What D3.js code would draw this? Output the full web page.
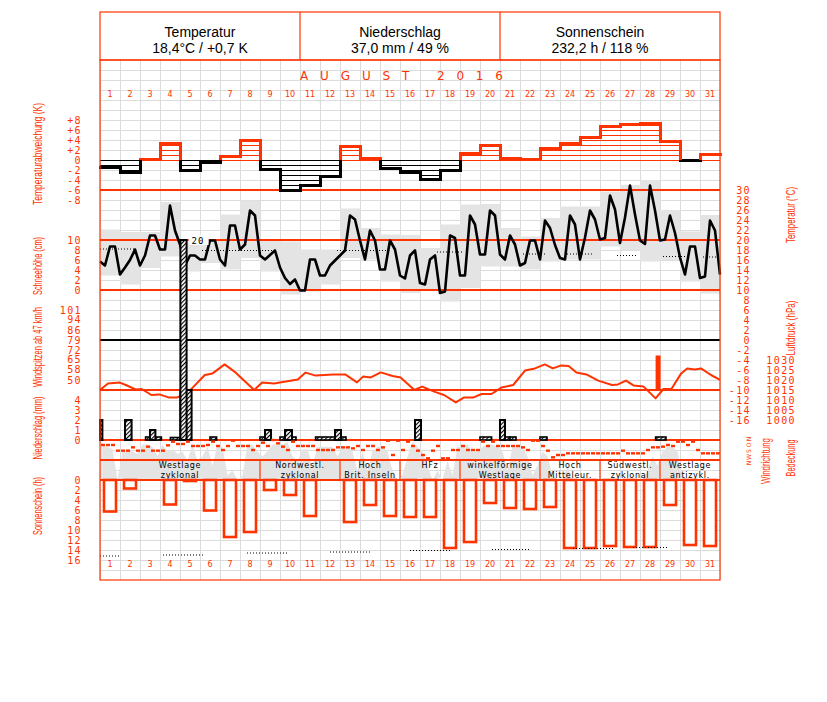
<!DOCTYPE html>
<html><head><meta charset="utf-8">
<script src="https://cdn.jsdelivr.net/npm/d3@7"></script>
<style>body{margin:0;background:#fff}</style>
</head><body>
<svg id="c" width="827" height="702" xmlns="http://www.w3.org/2000/svg"></svg>
<script>
// ---------------- DATA ----------------
const dayNums = d3.range(1, 32);
const headerTitles = ["Temperatur", "Niederschlag", "Sonnenschein"];
const headerValues = ["18,4°C / +0,7 K", "37,0 mm / 49 %", "232,2 h / 118 %"];
const monthTitle = "AUGUST 2016";

// daily temperature anomaly (K)
const anomaly = [-1.5,-2.5,0.2,3.3,-2.0,-0.5,0.7,3.9,-1.8,-6.1,-5.1,-3.2,2.7,0.3,-1.7,-2.5,-3.9,-2.1,1.3,2.9,0.3,0.1,2.4,3.3,4.5,6.8,7.1,7.4,3.8,-0.1,1.1];

// daily min / max temperature (°C)
const tempMax = [22.1,21.6,21.6,27.6,20.1,20.1,25.1,27.9,19.8,19.7,18.1,18.1,26.3,22.4,21.1,21.0,18.4,23.1,27.1,27.2,22.4,20.7,24.4,26.7,26.7,29.7,31.0,32.0,26.0,21.7,25.0];
const tempMin = [12.9,11.1,14.4,16.7,13.7,15.4,14.1,16.4,13.7,9.1,9.7,11.1,16.4,16.1,11.7,9.4,10.1,7.7,10.4,14.7,14.7,14.1,15.7,16.1,16.1,18.7,18.0,15.7,16.0,11.7,9.3];

// 6-hourly temperature (°C), 4 values per day + end value
const temp6h = [15.7,14.9,18.7,18.7, 13.1,14.5,16.0,18.1, 14.9,16.9,20.9,20.9, 18.1,18.1,26.9,21.9,
 19.1,14.9,16.9,16.9, 16.1,16.1,19.9,19.9, 16.1,14.9,22.9,22.9, 18.1,19.1,25.9,24.9,
 16.9,16.1,17.0,17.9, 14.5,12.4,11.2,12.1, 9.9,9.9,16.1,16.1, 12.9,12.9,14.9,15.9,
 16.9,17.9,24.9,24.1, 19.9,16.1,21.9,19.9, 14.1,14.1,19.9,18.1, 12.9,12.3,16.9,17.9,
 11.4,11.1,16.1,16.9, 9.4,9.7,20.9,20.4, 12.9,12.9,24.9,23.1, 17.1,17.1,25.9,24.9,
 17.1,16.1,20.9,19.1, 14.9,15.4,19.9,19.9, 16.1,23.9,22.4,19.0, 16.4,16.1,24.9,23.1,
 16.1,20.5,25.9,24.1, 20.1,20.4,28.9,26.1, 19.4,24.5,30.9,25.1, 19.9,19.2,30.9,25.9,
 19.9,20.1,24.9,21.4, 16.5,13.1,18.7,18.7, 12.4,12.7,23.9,21.9, 13.1];

// long-term mean temperature segments (day position from, to, °C)
const climFrom = [0, 5.1, 11.85, 16.85, 21.15, 23.35, 25.85, 28.15, 30.15];
const climTo   = [1.75, 8.65, 14.35, 18.15, 22.35, 24.6, 26.9, 29.35, 31];
const climTemp = [18.2, 17.9, 17.9, 17.6, 17.2, 17.2, 16.9, 16.7, 16.6];

// air pressure (time in days, hPa)
const pressureT = [0,0.40,0.99,1.29,1.78,2.08,2.57,2.97,3.46,3.86,4.15,4.55,5.24,5.63,6.23,6.72,7.71,8.11,8.70,9.29,9.89,10.28,10.78,11.66,12.26,12.85,13.15,13.54,14.04,14.63,15.03,15.72,16.11,16.71,17.20,17.79,18.19,18.68,19.08,19.57,20.07,20.66,21.25,21.75,22.24,22.64,23.03,23.43,23.82,24.32,24.91,25.60,25.90,26.30,26.69,27.18,27.78,28.17,28.57,29.06,29.36,29.75,30.05,30.55,31.0];
const pressureHpa = [1015,1018.3,1018.7,1017.5,1015.3,1015.5,1012.5,1012.8,1011.2,1011.3,1012.5,1015.3,1022.5,1023.3,1027.8,1024.2,1015,1018.8,1018.3,1019.2,1020.3,1023.7,1022.2,1022.8,1022.8,1018.8,1021.7,1021.3,1023.8,1022,1021.2,1015,1016.7,1014.2,1012.5,1008.8,1011.2,1011.3,1013,1013,1016.2,1017.5,1024.7,1025.8,1027.8,1025.8,1027.2,1027,1023.8,1022.8,1019.7,1017.5,1017.8,1019.7,1017.2,1016.7,1010.8,1015.5,1015.5,1023.3,1025.8,1025.3,1025.8,1022.5,1020.1];

// wind gusts >= 47 km/h (time from, to, km/h)
const gustFrom = [27.78];
const gustTo = [28.03];
const gustKmh = [68];

// precipitation (time from, to in days, mm)
const precFrom = [0.0, 1.25, 2.28, 2.5, 3.52, 4.02, 4.02, 5.5, 8.0, 8.25, 9.0, 9.25, 10.78, 11.75, 15.75, 19.0, 20.0, 20.5, 20.0, 22.0, 27.78];
const precTo   = [0.12, 1.58, 3.07, 2.77, 4.0, 4.58, 4.33, 5.83, 8.3, 8.55, 9.8, 9.6, 12.3, 12.05, 16.05, 19.58, 20.5, 20.8, 20.25, 22.35, 28.3];
const precMm   = [2.0, 2.0, 0.3, 1.0, 0.25, 5.0, 20.0, 0.3, 0.3, 1.0, 0.3, 1.0, 0.3, 1.0, 2.0, 0.3, 0.3, 0.3, 2.0, 0.3, 0.3];

// 6-hourly wind direction (degrees)
const windDir = [90,90,90,175,175,175,125,175,175,115,175,175,175,95,40,75,75,40,105,105,105,90,40,105,165,105,25,105,105,105,165,105,55,105,15,65,115,165,40,105,105,105,105,165,165,165,165,125,125,125,140,105,165,105,105,165,125,25,240,25,165,40,105,175,240,290,175,105,290,290,165,165,105,165,165,165,40,105,40,105,105,105,105,105,125,165,25,25,105,175,275,240,240,215,215,215,215,215,215,215,215,215,215,215,175,215,215,215,215,165,125,125,115,90,105,40,40,90,40,165,215,215,215,215];

// 6-hourly cloud cover (octas)
const cloudCover = [7.5,7,6.5,0, 6,6.5,6,5.5, 7.5,7.5,7,5, 7.5,6,6.5,5.5, 6,4,7.5,4, 5,7,3,7.5, 7,1,2,0, 1,7.5,7.5,6,
 5,6,7.5,7.5, 7.5,8,5,4, 6.5,6.5,3,7, 7,7,7,5, 7,7,6,2, 6,2,6,7, 7,6,2,0, 1,5,8,7,
 6,3,0,2, 0,4,1,7, 7,7.5,6,6, 7,7.5,7.5,7, 6,2,7,7, 7,5,1,3, 6,5,1,0, 0,3,0,0,
 0,0,0,0, 0,0,0,0, 0,0,0,0, 0,2,5,3, 6,7,7,6, 1,0,0,0, 0,0,0,0];

// weather types (Großwetterlagen)
const wtFirstDay = [1, 9, 13, 16, 19, 23, 26, 29];
const wtLastDay  = [8, 12, 15, 18, 22, 25, 28, 31];
const wtLine1 = ["Westlage", "Nordwestl.", "Hoch", "HFz", "winkelförmige", "Hoch", "Südwestl.", "Westlage"];
const wtLine2 = ["zyklonal", "zyklonal", "Brit. Inseln", "", "Westlage", "Mitteleur.", "zyklonal", "antizykl."];

// daily sunshine (h)
const sunshine = [6.3,1.7,0,4.9,0.2,6.1,11.4,10.4,2.0,3.0,7.2,0,8.4,5.0,7.2,7.4,7.4,13.6,12.4,4.6,5.6,5.8,5.4,13.6,13.6,13.2,13.4,13.4,5.0,13.0,13.2];
// reference sunshine segments (from, to, h)
const sunRefFrom = [0, 3.15, 7.35, 11.5, 15.5, 19.6, 23.65, 26.65];
const sunRefTo   = [1, 5.15, 9.35, 13.5, 17.5, 21.5, 25.65, 28.4];
const sunRef     = [15.2, 15.0, 14.6, 14.4, 14.1, 13.9, 13.7, 13.5];

// tick labels
const anomTicks = [8,6,4,2,0,-2,-4,-6,-8];
const snowTicks = [10,8,6,4,2,0];
const windTicks = [101,94,86,79,72,65,58,50];
const precTicks = [4,3,2,1,0];
const sunTicks = [0,2,4,6,8,10,12,14,16];
const tempTicks = d3.range(30, -17, -2);
const presTicks = [1030,1025,1020,1015,1010,1005,1000];
const dirLetters = ["N","O","S","W","N"];
const dirLetterDeg = [0,90,180,270,360];

// ---------------- DRAW ----------------
const RED = "#ff3300";
const GREY = "#e4e4e4";
const svg = d3.select("#c");

const defs = svg.append("defs");
const pat = defs.append("pattern").attr("id","hatch").attr("patternUnits","userSpaceOnUse")
  .attr("width",3).attr("height",3).attr("patternTransform","rotate(45)");
pat.append("rect").attr("width",3).attr("height",3).attr("fill","#fff");
pat.append("line").attr("x1",0.5).attr("y1",0).attr("x2",0.5).attr("y2",3).attr("stroke","#000").attr("stroke-width",1.3);

const x = d3.scaleLinear().domain([0, 31]).range([100, 720]);
const yAnom = d3.scaleLinear().domain([-8, 8]).range([200, 120]);
const yTemp = d3.scaleLinear().domain([-16, 30]).range([420, 190]);
const ySnow = d3.scaleLinear().domain([0, 10]).range([290, 240]);
const yWind = d3.scaleLinear().domain([43, 101]).range([390, 310]);
const yPrec = d3.scaleLinear().domain([0, 4]).range([440, 400]);
const yPres = d3.scaleLinear().domain([1000, 1030]).range([420, 360]);
const yDir = d3.scaleLinear().domain([0, 360]).range([439, 463]);
const yCloud = d3.scaleLinear().domain([0, 8]).range([480, 442]);
const ySun = d3.scaleLinear().domain([0, 16]).range([480, 560]);

// grid
const grid = svg.append("g").attr("stroke","#dcdcdc").attr("stroke-width",1).attr("shape-rendering","crispEdges");
d3.range(0, 32).forEach(k => grid.append("line").attr("x1",x(k)).attr("x2",x(k)).attr("y1",60).attr("y2",580));
d3.range(70, 580, 10).forEach(v => grid.append("line").attr("x1",100).attr("x2",720).attr("y1",v).attr("y2",v));

// temperature min/max bands
svg.append("g").selectAll("rect").data(dayNums).join("rect")
  .attr("x", d => x(d-1)).attr("width", x(1)-x(0))
  .attr("y", (d,i) => yTemp(tempMax[i])).attr("height", (d,i) => yTemp(tempMin[i]) - yTemp(tempMax[i]))
  .attr("fill", GREY);

// cloud cover area
const cloudArea = d3.area().x((d,i) => x(i/4 + 0.125)).y0(yCloud(0)).y1(d => yCloud(d));
svg.append("path").datum(cloudCover).attr("d", cloudArea).attr("fill", GREY);
svg.append("rect").attr("x",x(0)).attr("width",x(0.125)-x(0)).attr("y",yCloud(cloudCover[0])).attr("height",yCloud(0)-yCloud(cloudCover[0])).attr("fill",GREY);

// panel separator lines (red)
const sep = svg.append("g").attr("stroke",RED).attr("stroke-width",1.2).attr("shape-rendering","crispEdges");
[yTemp(30), yTemp(20), yTemp(10), yWind(43), yPrec(0), 460, 480].forEach(v =>
  sep.append("line").attr("x1",100).attr("x2",720).attr("y1",v).attr("y2",v));
// 0 °C line
svg.append("line").attr("x1",100).attr("x2",720).attr("y1",yTemp(0)).attr("y2",yTemp(0))
  .attr("stroke","#000").attr("stroke-width",1.2).attr("shape-rendering","crispEdges");

// long-term mean temperature (dotted)
svg.append("g").selectAll("line").data(climTemp).join("line")
  .attr("x1",(d,i)=>x(climFrom[i])).attr("x2",(d,i)=>x(climTo[i]))
  .attr("y1",d=>yTemp(d)).attr("y2",d=>yTemp(d))
  .attr("stroke","#000").attr("stroke-width",1).attr("stroke-dasharray","1,2");

// temperature curve
svg.append("path").datum(temp6h)
  .attr("d", d3.line().x((d,i)=>x(i/4)).y(d=>yTemp(d)))
  .attr("fill","none").attr("stroke","#000").attr("stroke-width",2.6).attr("stroke-linejoin","round");

// temperature anomaly: hatch lines
const anomG = svg.append("g").attr("shape-rendering","crispEdges");
anomaly.forEach((a,i) => {
  const col = a >= 0 ? RED : "#000";
  const levels = a >= 0 ? d3.range(0, a, 1) : d3.range(0, a, -1);
  levels.forEach(k => anomG.append("line").attr("x1",x(i)).attr("x2",x(i+1))
    .attr("y1",yAnom(k)).attr("y2",yAnom(k)).attr("stroke",col).attr("stroke-width",1));
});
// anomaly envelope
anomaly.forEach((a,i) => {
  const col = a >= 0 ? RED : "#000";
  anomG.append("line").attr("x1",x(i)).attr("x2",x(i+1)).attr("y1",yAnom(a)).attr("y2",yAnom(a))
    .attr("stroke",col).attr("stroke-width",3).attr("stroke-linecap","square");
  if (i > 0) {
    const p = anomaly[i-1];
    const hi = Math.max(a,p), lo = Math.min(a,p);
    if (hi > 0) anomG.append("line").attr("x1",x(i)).attr("x2",x(i)).attr("y1",yAnom(Math.max(lo,0))).attr("y2",yAnom(hi))
      .attr("stroke",RED).attr("stroke-width",3);
    if (lo < 0) anomG.append("line").attr("x1",x(i)).attr("x2",x(i)).attr("y1",yAnom(Math.min(hi,0))).attr("y2",yAnom(lo))
      .attr("stroke","#000").attr("stroke-width",3);
  }
});

// pressure curve
svg.append("path").datum(pressureHpa)
  .attr("d", d3.line().x((d,i)=>x(pressureT[i])).y(d=>yPres(d)))
  .attr("fill","none").attr("stroke",RED).attr("stroke-width",2).attr("stroke-linejoin","round");

// wind gusts
svg.append("g").selectAll("rect").data(gustKmh).join("rect")
  .attr("x",(d,i)=>x(gustFrom[i])).attr("width",(d,i)=>x(gustTo[i])-x(gustFrom[i]))
  .attr("y",d=>yWind(d)).attr("height",d=>yWind(43)-yWind(d)).attr("fill",RED);

// precipitation
const precG = svg.append("g");
precMm.forEach((m,i) => {
  precG.append("rect").attr("x",x(precFrom[i])).attr("width",x(precTo[i])-x(precFrom[i]))
    .attr("y",yPrec(m)).attr("height",yPrec(0)-yPrec(m))
    .attr("fill","url(#hatch)").attr("stroke","#000").attr("stroke-width",m >= 1 ? 2 : 1.6);
  if (m >= 10) {
    const tx = x(precTo[i]) + 5, ty = yPrec(m);
    precG.append("rect").attr("x",tx-3).attr("y",ty-5).attr("width",20).attr("height",10).attr("fill","#fff");
    precG.append("text").attr("x",tx).attr("y",ty+3.5).text(d3.format("d")(m))
      .attr("font-family","DejaVu Sans Mono").attr("font-size",9).attr("letter-spacing",1).attr("fill","#000");
  }
});

// wind direction dots
svg.append("g").selectAll("rect").data(windDir).join("rect")
  .attr("x",(d,i)=>x(i/4 + 0.15) - 2).attr("width",4)
  .attr("y",d=>yDir(d) - 1.2).attr("height",2.4).attr("fill",RED);

// weather type band
const wtG = svg.append("g");
wtFirstDay.forEach((f,i) => {
  if (i > 0) wtG.append("line").attr("x1",x(f-1)).attr("x2",x(f-1)).attr("y1",460).attr("y2",480)
    .attr("stroke",RED).attr("stroke-width",1.2);
  const cx = (x(f-1) + x(wtLastDay[i])) / 2;
  const fnt = {family:"DejaVu Sans", size:8, ls:0.7};
  wtG.append("text").attr("x",cx).attr("y",467.5).attr("text-anchor","middle")
    .attr("font-family",fnt.family).attr("font-size",fnt.size).attr("letter-spacing",fnt.ls).attr("fill","#000").text(wtLine1[i]);
  if (wtLine2[i]) wtG.append("text").attr("x",cx).attr("y",477.5).attr("text-anchor","middle")
    .attr("font-family",fnt.family).attr("font-size",fnt.size).attr("letter-spacing",fnt.ls).attr("fill","#000").text(wtLine2[i]);
});

// sunshine bars
const sunG = svg.append("g");
sunshine.forEach((s,i) => {
  if (s <= 0) return;
  sunG.append("rect").attr("x",x(i + 0.2)).attr("width",x(0.6)-x(0))
    .attr("y",ySun(0)).attr("height",ySun(s)-ySun(0))
    .attr("fill","#fff").attr("stroke",RED).attr("stroke-width",2.6);
});
// sunshine reference (dotted)
svg.append("g").selectAll("line").data(sunRef).join("line")
  .attr("x1",(d,i)=>x(sunRefFrom[i])).attr("x2",(d,i)=>x(sunRefTo[i]))
  .attr("y1",d=>ySun(d)).attr("y2",d=>ySun(d))
  .attr("stroke","#000").attr("stroke-width",1).attr("stroke-dasharray","1,2");

// day numbers
[97, 567].forEach(yy => {
  svg.append("g").selectAll("text").data(dayNums).join("text")
    .attr("x",d=>x(d-0.5)).attr("y",yy).attr("text-anchor","middle")
    .attr("font-family","DejaVu Sans").attr("font-size",8).attr("fill",RED).text(d=>d);
});

// title
svg.append("text").attr("x",300).attr("y",80).attr("textLength",203).attr("lengthAdjust","spacing")
  .attr("font-family","DejaVu Sans").attr("font-size",12).attr("fill",RED).text(monthTitle);

// header
const hd = svg.append("g");
hd.append("rect").attr("x",100).attr("y",12).attr("width",620).attr("height",48)
  .attr("fill","none").attr("stroke",RED).attr("stroke-width",1.2);
[300, 500].forEach(v => hd.append("line").attr("x1",v).attr("x2",v).attr("y1",12).attr("y2",60).attr("stroke",RED).attr("stroke-width",1.2));
headerTitles.forEach((t,i) => {
  const cx = 200 + 200*i;
  hd.append("text").attr("x",cx).attr("y",37).attr("text-anchor","middle")
    .attr("font-family","Liberation Sans, Arial").attr("font-size",14).attr("fill","#000").text(t);
  hd.append("text").attr("x",cx).attr("y",53).attr("text-anchor","middle")
    .attr("font-family","Liberation Sans, Arial").attr("font-size",14).attr("fill","#000").text(headerValues[i]);
});

// outer frame
svg.append("rect").attr("x",100).attr("y",60).attr("width",620).attr("height",520)
  .attr("fill","none").attr("stroke",RED).attr("stroke-width",1.2);

// axes (tick labels)
function labelAxis(scale, values, xpos, fmt) {
  const g = svg.append("g").attr("transform",`translate(${xpos},0)`)
    .call(d3.axisLeft(scale).tickValues(values).tickSize(0).tickPadding(0).tickFormat(fmt || (d => d)));
  g.select(".domain").remove();
  g.attr("font-family","DejaVu Sans Mono").attr("font-size",10);
  g.selectAll("text").attr("fill",RED).attr("letter-spacing",1.4);
  return g;
}
labelAxis(yAnom, anomTicks, 82, d => d > 0 ? "+" + d : String(d));
labelAxis(ySnow, snowTicks, 82);
labelAxis(yWind, windTicks, 82);
labelAxis(yPrec, precTicks, 82);
labelAxis(ySun, sunTicks, 82);
labelAxis(yTemp, tempTicks, 751);
labelAxis(yPres, presTicks, 796);

// wind direction letters
svg.append("g").selectAll("text").data(dirLetters).join("text")
  .attr("transform",(d,i)=>`translate(751,${yDir(dirLetterDeg[i])}) rotate(-90)`)
  .attr("text-anchor","middle").attr("font-family","DejaVu Sans").attr("font-size",6).attr("fill",RED).text(d=>d);

// vertical titles
function vTitle(txt, xx, yc, len) {
  svg.append("text").attr("transform",`translate(${xx},${yc}) rotate(-90)`)
    .attr("text-anchor","middle").attr("font-family","Liberation Sans Narrow, Liberation Sans, Arial")
    .attr("font-size",12).attr("fill",RED).attr("textLength",len).attr("lengthAdjust","spacingAndGlyphs").text(txt);
}
vTitle("Temperaturabweichung (K)", 42, 154, 102);
vTitle("Schneehöhe (cm)", 42, 266, 58);
vTitle("Windspitzen ab 47 km/h", 42, 347, 80);
vTitle("Niederschlag (mm)", 42, 428, 63);
vTitle("Sonnenschein (h)", 42, 506, 58);
vTitle("Temperatur (°C)", 795, 215, 56);
vTitle("Luftdruck (hPa)", 795, 328, 55);
vTitle("Windrichtung", 770, 461, 46);
vTitle("Bedeckung", 795, 458, 37);
</script>
</body></html>
